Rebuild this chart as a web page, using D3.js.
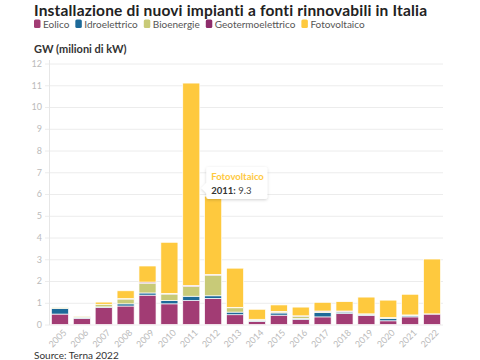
<!DOCTYPE html>
<html><head><meta charset="utf-8">
<script src="https://cdn.jsdelivr.net/npm/d3@7"></script>
<style>
html,body{margin:0;padding:0;background:#fff;}
svg{display:block;font-family:Lato,"Open Sans",sans-serif;}
</style></head>
<body><svg id="c" width="480" height="360"></svg>
<script>
const years = ["2005","2006","2007","2008","2009","2010","2011","2012","2013","2014","2015","2016","2017","2018","2019","2020","2021","2022"];
const seriesNames = ["Eolico","Idroelettrico","Bioenergie","Geotermoelettrico","Fotovoltaico"];
const eolico       = [0.48,0.28,0.78,0.85,1.35,0.95,1.10,1.20,0.45,0.14,0.43,0.23,0.35,0.50,0.42,0.17,0.35,0.48];
const idroelettrico= [0.25,0.05,0.03,0.10,0.10,0.15,0.20,0.12,0.12,0.05,0.10,0.05,0.20,0.07,0.05,0.10,0.05,0.01];
const bioenergie   = [0.05,0.05,0.12,0.22,0.45,0.30,0.45,0.95,0.20,0.05,0.05,0.10,0.05,0.03,0.02,0.05,0.04,0.00];
const geotermo     = [0.00,0.00,0.00,0.02,0.05,0.03,0.05,0.03,0.02,0.00,0.02,0.02,0.02,0.02,0.00,0.00,0.00,0.00];
const fotovoltaico = [0.00,0.01,0.10,0.36,0.74,2.35,9.30,3.60,1.80,0.46,0.30,0.40,0.40,0.43,0.77,0.80,0.95,2.52];
const colors = ["#a23c74","#1d6a99","#c8ca78","#8e2d6b","#fec93e"];
const yTicks = [0,1,2,3,4,5,6,7,8,9,10,11,12];
const title = "Installazione di nuovi impianti a fonti rinnovabili in Italia";
const yLabel = "GW (milioni di kW)";
const source = "Source: Terna 2022";
const tipSeries = "Fotovoltaico", tipYear = "2011";

const svg = d3.select("#c");
const seriesArr = [eolico,idroelettrico,bioenergie,geotermo,fotovoltaico];
const rows = years.map((y,i)=>{const r={year:y}; seriesNames.forEach((s,k)=>r[s]=seriesArr[k][i]); return r;});
const stack = d3.stack().keys(seriesNames)(rows);

const x = d3.scaleBand().domain(years).range([49,443]).paddingInner(0.22).paddingOuter(0.11);
const y = d3.scaleLinear().domain([0,12]).range([324.5,63.5]);

// title
svg.append("text").attr("x",34).attr("y",15.5).attr("font-size",15.5).attr("letter-spacing",0.18).attr("font-weight",700).attr("fill","#222").text(title);

// legend
const lg = svg.append("g");
let lx = 34;
seriesNames.forEach((s,k)=>{
  lg.append("rect").attr("x",lx).attr("y",19.5).attr("width",6.5).attr("height",8.5).attr("rx",1.5).attr("fill",colors[k]);
  const t = lg.append("text").attr("x",lx+9).attr("y",27.5).attr("font-size",10).attr("fill","#555").text(s);
  lx += 9 + t.node().getComputedTextLength() + 6;
});

svg.append("text").attr("x",34).attr("y",52.5).attr("font-size",11).attr("font-weight",700).attr("fill","#333").text(yLabel);

// grid
const yAxis = d3.axisLeft(y).tickValues(yTicks).tickSize(-(443-45)).tickPadding(3).tickFormat(d3.format("d"));
const ga = svg.append("g").attr("transform","translate(45,0)").call(yAxis);
ga.select(".domain").remove();
ga.selectAll(".tick line").attr("stroke","#ececec").attr("stroke-width",1);
ga.selectAll(".tick text").attr("fill","#bbb").attr("font-size",9).attr("font-family","Lato,sans-serif");
svg.append("line").attr("x1",49.5).attr("x2",49.5).attr("y1",60).attr("y2",325).attr("stroke","#e6e6e6");

// bars
svg.append("g").selectAll("g").data(stack).join("g").attr("fill",(d,i)=>colors[i])
  .selectAll("rect").data(d=>d).join("rect")
  .attr("x",d=>x(d.data.year)).attr("width",x.bandwidth())
  .attr("y",d=>y(d[1])).attr("height",d=>Math.max(0,y(d[0])-y(d[1])))
  .attr("stroke","#fff").attr("stroke-width",0.7);

// x axis labels
const xAxis = d3.axisBottom(x).tickSize(0).tickPadding(0);
const gx = svg.append("g").attr("transform","translate(0,327)").call(xAxis);
gx.select(".domain").remove();
gx.selectAll(".tick text").attr("fill","#bbb").attr("font-size",9).attr("font-family","Lato,sans-serif")
  .attr("text-anchor","end").attr("transform","translate(5,4) rotate(-45)").attr("dy","0.35em");

// source
svg.append("text").attr("x",34).attr("y",359).attr("font-size",10).attr("fill","#333").text(source);

// tooltip
const yi = years.indexOf(tipYear);
const val = fotovoltaico[yi];
const tipX = x(tipYear)+x.bandwidth()+1.5, tipY = 188;
const tip = svg.append("g");
const defs = svg.append("defs");
const f = defs.append("filter").attr("id","sh").attr("x","-20%").attr("y","-30%").attr("width","140%").attr("height","160%");
f.append("feDropShadow").attr("dx",0).attr("dy",1).attr("stdDeviation",1.8).attr("flood-color","#000").attr("flood-opacity",0.18);
const bx = tipX+5, by = 167, bw = 61, bh = 32;
tip.append("path").attr("filter","url(#sh)").attr("fill","#fff")
  .attr("d",`M${bx+2},${by} H${bx+bw-2} Q${bx+bw},${by} ${bx+bw},${by+2} V${by+bh-2} Q${bx+bw},${by+bh} ${bx+bw-2},${by+bh} H${bx+2} Q${bx},${by+bh} ${bx},${by+bh-2} V${tipY+5} L${tipX},${tipY} L${bx},${tipY-5} V${by+2} Q${bx},${by} ${bx+2},${by} Z`);
tip.append("text").attr("x",bx+5).attr("y",by+13).attr("font-size",9.5).attr("font-weight",700).attr("fill","#fec93e").text(tipSeries);
const t2 = tip.append("text").attr("x",bx+5).attr("y",by+27).attr("font-size",9.5).attr("fill","#444");
t2.append("tspan").attr("font-weight",700).attr("fill","#333").text(tipYear+":");
t2.append("tspan").text(" "+val);
</script></body></html>
